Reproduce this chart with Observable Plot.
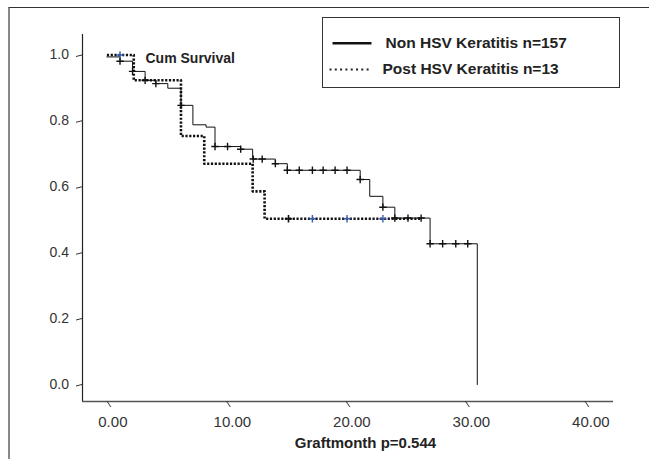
<!DOCTYPE html>
<html>
<head>
<meta charset="utf-8">
<script src="https://cdn.jsdelivr.net/npm/d3@7"></script>
<script src="https://cdn.jsdelivr.net/npm/@observablehq/plot@0.6"></script>
<style>
  body { margin: 0; background: #fff; }
  #wrap { position: relative; width: 649px; height: 459px; overflow: hidden; background: #fff;
          font-family: "Liberation Sans", Arial, sans-serif; }
  #chart { position: absolute; left: 0; top: 0; }
  #border { position: absolute; left: 8px; top: 6.5px; width: 700px; height: 500px;
            border-left: 2px solid #888; border-top: 1.5px solid #333; box-sizing: border-box; }
  #legend { position: absolute; left: 322px; top: 16.5px; width: 298px; height: 71px;
            border: 1.5px solid #333; box-sizing: border-box; background: #fff; }
  #legend svg { position: absolute; left: 0; top: 0; }
</style>
</head>
<body>
<div id="wrap">
  <div id="border"></div>
  <div id="chart"></div>
  <div id="legend"></div>
</div>
<script>
// ---- Data ----
const groupNames = ["Non HSV Keratitis n=157", "Post HSV Keratitis n=13"];

// Non HSV keratitis: step times (months) and cumulative survival after each step
const nonHsvTime = [0, 1.1, 2.15, 3.2, 4.1, 5.1, 6.2, 7.2, 8.3, 9.05, 11.2, 12.2, 14.1, 15.1, 21.2, 22.0, 23.1, 24.1, 27.05, 31.0];
const nonHsvSurv = [0.994, 0.981, 0.95, 0.923, 0.913, 0.899, 0.847, 0.788, 0.781, 0.722, 0.714, 0.684, 0.670, 0.650, 0.622, 0.571, 0.538, 0.505, 0.427, 0];
// censored observations (months)
const nonHsvCensored = [1.1, 2.15, 3.2, 4.1, 6.2, 9.05, 10.1, 11.2, 12.25, 13.0, 14.1, 15.1, 16.1, 17.2, 18.1, 19.1, 20.1, 21.2, 23.1, 24.1, 25.2, 26.3, 27.05, 28.1, 29.2, 30.2];

// Post HSV keratitis
const postHsvTime = [0, 2.25, 6.2, 8.15, 12.2, 13.2, 26.3];
const postHsvSurv = [1.0, 0.923, 0.754, 0.670, 0.586, 0.503, 0.503];
const postHsvCensoredBlue = [1.1, 17.2, 20.1, 23.1];
const postHsvCensoredBlack = [15.2];

// Axes
const xTicks = [0, 10, 20, 30, 40];
const yTicks = [0, 0.2, 0.4, 0.6, 0.8, 1.0];
const xDomain = [-2.04, 42.4];
const yDomain = [-0.0516, 1.062];
const yLabel = "Cum Survival";
const xLabel = "Graftmonth p=0.544";

// ---- Build tables ----
const nonHsv = nonHsvTime.map((t, i) => ({t, s: nonHsvSurv[i]}));
const postHsv = postHsvTime.map((t, i) => ({t, s: postHsvSurv[i]}));
function survAt(curve, t) {
  let s = curve[0].s;
  for (const p of curve) if (p.t <= t + 1e-9) s = p.s;
  return s;
}
const nonHsvCens = nonHsvCensored.map(t => ({t, s: survAt(nonHsv, t)}));
const postBlue = postHsvCensoredBlue.map(t => ({t, s: survAt(postHsv, t)}));
const postBlack = postHsvCensoredBlack.map(t => ({t, s: survAt(postHsv, t)}));

const FONT = '"Liberation Sans", Arial, sans-serif';
const INK = "#222";

const chart = Plot.plot({
  width: 649,
  height: 459,
  marginLeft: 82,
  marginRight: 36,
  marginTop: 34,
  marginBottom: 58,
  style: {fontFamily: FONT, background: "transparent", color: INK, overflow: "visible"},
  x: {domain: xDomain},
  y: {domain: yDomain},
  marks: [
    // axis lines
    Plot.ruleX([xDomain[0]], {stroke: "#222", strokeWidth: 1.2}),
    Plot.ruleY([yDomain[0]], {stroke: "#555", strokeWidth: 1.6}),
    // ticks
    Plot.axisX(xTicks, {tickSize: 6, fill: "none", stroke: "#333", label: null}),
    Plot.axisX(xTicks, {tickSize: 6, tickPadding: 8.7, stroke: "none", dx: 6, fontSize: 15,
                        tickFormat: d3.format(".2f"), fill: "#333", label: null}),
    Plot.axisY(yTicks, {tickSize: 6, tickPadding: 7.5, fontSize: 14, stroke: "#333",
                        tickFormat: d3.format(".1f"), fill: "#333", label: null}),
    // curves
    Plot.line(postHsv, {x: "t", y: "s", curve: "step-after", stroke: "#111",
                        strokeWidth: 2.6, strokeDasharray: "2.2 1.6", strokeLinecap: "butt"}),
    Plot.line(nonHsv, {x: "t", y: "s", curve: "step-after", stroke: "#111", strokeWidth: 1}),
    // censor marks
    Plot.dot(nonHsvCens, {x: "t", y: "s", symbol: "plus", r: 2.5, stroke: "#111", strokeWidth: 1.4}),
    Plot.dot(postBlack, {x: "t", y: "s", symbol: "plus", r: 2.5, stroke: "#111", strokeWidth: 1.6}),
    Plot.dot(postBlue, {x: "t", y: "s", symbol: "plus", r: 2.5, stroke: "#3a5fb0", strokeWidth: 1.4}),
    // labels
    Plot.text([yLabel], {frameAnchor: "top-left", dx: 63, dy: 24.5, textAnchor: "start",
                         lineAnchor: "middle", fontWeight: "bold", fontSize: 14, fill: INK}),
    Plot.text([xLabel], {frameAnchor: "bottom", dx: 17.5, dy: 42, lineAnchor: "middle",
                         fontWeight: "bold", fontSize: 15, fill: INK})
  ]
});

// slanted tick marks like the original
chart.querySelectorAll('g[aria-label="x-axis tick"] path').forEach(p => {
  p.setAttribute("transform", (p.getAttribute("transform") || "") + " skewX(33.7)");
});
chart.querySelectorAll('g[aria-label="y-axis tick"] path').forEach(p => {
  p.setAttribute("transform", (p.getAttribute("transform") || "") + " skewY(-14)");
});

document.getElementById("chart").appendChild(chart);

// ---- Legend ----
const lg = d3.select("#legend").append("svg").attr("width", 296).attr("height", 69)
  .style("font-family", FONT);
lg.append("line").attr("x1", 9.5).attr("x2", 48.5).attr("y1", 25.3).attr("y2", 25.3)
  .attr("stroke", "#111").attr("stroke-width", 2.4);
lg.append("line").attr("x1", 6.5).attr("x2", 48.5).attr("y1", 51.5).attr("y2", 51.5)
  .attr("stroke", "#222").attr("stroke-width", 2.2).attr("stroke-dasharray", "2 3.3");
lg.append("text").attr("x", 62.5).attr("y", 29.6).text(groupNames[0])
  .attr("font-size", 15.5).attr("font-weight", "bold").attr("fill", INK);
lg.append("text").attr("x", 59.5).attr("y", 56).text(groupNames[1])
  .attr("font-size", 15.5).attr("font-weight", "bold").attr("fill", INK);
</script>
</body>
</html>
